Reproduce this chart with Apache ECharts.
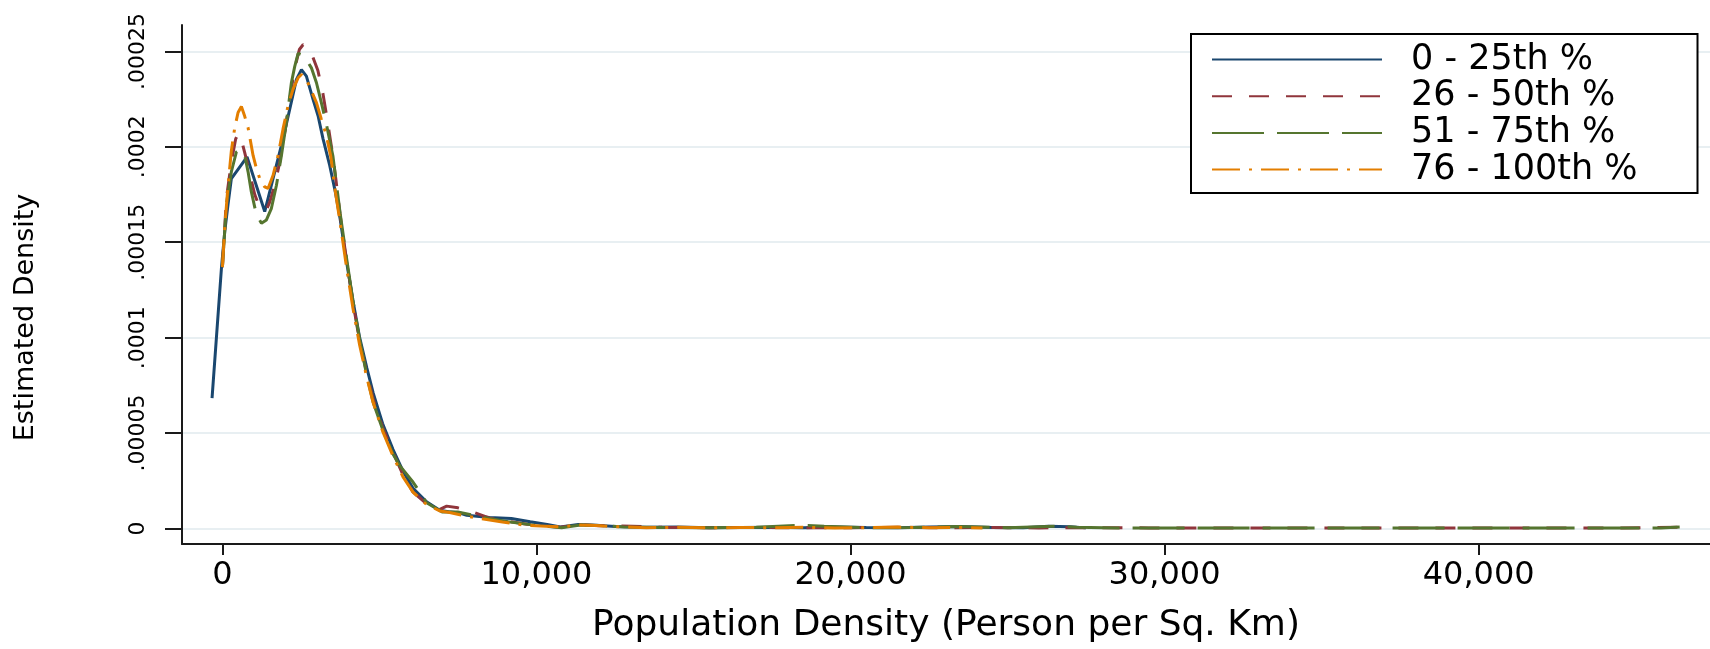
<!DOCTYPE html>
<html>
<head>
<meta charset="utf-8">
<title>Population Density – Estimated Density by Quartile</title>
<script src="https://cdn.jsdelivr.net/npm/echarts@6/dist/echarts.min.js"></script>
<style>
  html, body { margin: 0; padding: 0; background: #ffffff; }
  #chart { width: 1710px; height: 649px; }
</style>
</head>
<body>
<div id="chart"></div>
<script>
// Kernel density curves of population density (persons per sq. km), by quartile group
const seriesNames = ['0 - 25th %', '26 - 50th %', '51 - 75th %', '76 - 100th %'];

const xTicks = [0, 10000, 20000, 30000, 40000];
const xTickLabels = ['0', '10,000', '20,000', '30,000', '40,000'];
const yTicks = [0, 0.00005, 0.0001, 0.00015, 0.0002, 0.00025];
const yTickLabels = ['0', '.00005', '.0001', '.00015', '.0002', '.00025'];

const blueX = [-330, -190, -30, 75, 180, 285, 785, 1347, 1930, 2357,
  2516, 2673, 2885, 3045, 3204, 3416, 3600, 3750, 3950, 4150,
  4370, 4600, 4800, 5100, 5430, 5750, 6070, 6500, 6920, 7200,
  7560, 7780, 8500, 9200, 9800, 10340, 10760, 11330, 11900, 12500,
  13500, 14500, 15500, 16500, 17500, 18500, 19500, 20500, 21500, 22500,
  23500, 24500, 25500, 26300, 27000, 27500];
const blueY = [0.683e-4, 1.003e-4, 1.367e-4, 1.557e-4, 1.70e-4, 1.834e-4, 1.947e-4, 1.661e-4, 2.042e-4, 2.353e-4,
  2.405e-4, 2.371e-4, 2.249e-4, 2.163e-4, 2.042e-4, 1.903e-4, 1.76e-4, 1.62e-4, 1.40e-4, 1.20e-4,
  1.00e-4, 0.84e-4, 0.71e-4, 0.55e-4, 0.415e-4, 0.30e-4, 0.21e-4, 0.14e-4, 0.095e-4, 0.088e-4,
  0.081e-4, 0.069e-4, 0.058e-4, 0.052e-4, 0.035e-4, 0.021e-4, 0.008e-4, 0.021e-4, 0.017e-4, 0.010e-4,
  0.006e-4, 0.008e-4, 0.004e-4, 0.005e-4, 0.006e-4, 0.004e-4, 0.007e-4, 0.005e-4, 0.004e-4, 0.008e-4,
  0.010e-4, 0.005e-4, 0.004e-4, 0.012e-4, 0.009e-4, 0.003e-4];

const maroonX = [0, 127, 285, 420, 500, 600, 710, 870, 1030, 1190,
  1294, 1400, 1506, 1666, 1825, 1980, 2143, 2300, 2450, 2567,
  2720, 2880, 3040, 3200, 3350, 3500, 3620, 3750, 3950, 4150,
  4370, 4600, 4800, 5100, 5430, 5750, 6070, 6500, 6920, 7140,
  7500, 8000, 8490, 9000, 9700, 10300, 10760, 11400, 12000, 13050,
  14000, 15500, 17000, 18500, 20000, 21500, 23000, 24500, 26000, 27500,
  29500, 32000, 35000, 38000, 41000, 44000, 46400];
const maroonY = [1.37e-4, 1.73e-4, 1.92e-4, 2.04e-4, 2.07e-4, 2.04e-4, 1.97e-4, 1.86e-4, 1.75e-4, 1.68e-4,
  1.67e-4, 1.67e-4, 1.71e-4, 1.80e-4, 1.92e-4, 2.07e-4, 2.25e-4, 2.41e-4, 2.51e-4, 2.535e-4,
  2.525e-4, 2.47e-4, 2.40e-4, 2.28e-4, 2.13e-4, 1.97e-4, 1.82e-4, 1.64e-4, 1.41e-4, 1.19e-4,
  0.98e-4, 0.81e-4, 0.68e-4, 0.53e-4, 0.40e-4, 0.28e-4, 0.19e-4, 0.13e-4, 0.10e-4, 0.117e-4,
  0.108e-4, 0.085e-4, 0.055e-4, 0.040e-4, 0.022e-4, 0.012e-4, 0.006e-4, 0.020e-4, 0.014e-4, 0.012e-4,
  0.006e-4, 0.004e-4, 0.005e-4, 0.003e-4, 0.004e-4, 0.006e-4, 0.004e-4, 0.005e-4, 0.003e-4, 0.004e-4,
  0.003e-4, 0.003e-4, 0.002e-4, 0.003e-4, 0.003e-4, 0.002e-4, 0.006e-4];

const greenX = [0, 127, 285, 445, 551, 710, 817, 920, 1083, 1242,
  1401, 1560, 1720, 1879, 2036, 2196, 2303, 2410, 2516, 2673,
  2833, 2994, 3150, 3310, 3520, 3650, 3750, 3950, 4150, 4370,
  4600, 4800, 5100, 5430, 5646, 6073, 6216, 6500, 6997, 7493,
  8490, 9100, 9800, 10400, 10800, 11400, 12000, 12800, 14000, 15500,
  17000, 18460, 19160, 20500, 22000, 23400, 25000, 26600, 27200, 28500,
  31000, 34000, 37000, 40000, 43000, 45800, 46400];
const greenY = [1.37e-4, 1.70e-4, 1.87e-4, 1.973e-4, 1.986e-4, 1.955e-4, 1.869e-4, 1.765e-4, 1.644e-4, 1.60e-4,
  1.617e-4, 1.678e-4, 1.799e-4, 1.955e-4, 2.128e-4, 2.336e-4, 2.422e-4, 2.49e-4, 2.483e-4, 2.457e-4,
  2.414e-4, 2.336e-4, 2.232e-4, 2.119e-4, 1.95e-4, 1.78e-4, 1.65e-4, 1.42e-4, 1.20e-4, 0.99e-4,
  0.80e-4, 0.66e-4, 0.52e-4, 0.39e-4, 0.329e-4, 0.242e-4, 0.208e-4, 0.135e-4, 0.086e-4, 0.086e-4,
  0.052e-4, 0.035e-4, 0.020e-4, 0.010e-4, 0.004e-4, 0.018e-4, 0.016e-4, 0.008e-4, 0.005e-4, 0.004e-4,
  0.006e-4, 0.017e-4, 0.012e-4, 0.004e-4, 0.005e-4, 0.010e-4, 0.004e-4, 0.012e-4, 0.006e-4, 0.003e-4,
  0.003e-4, 0.002e-4, 0.003e-4, 0.003e-4, 0.002e-4, 0.003e-4, 0.008e-4];

const orangeX = [0, 75, 180, 285, 392, 498, 604, 710, 817, 976,
  1083, 1188, 1347, 1453, 1613, 1773, 1930, 2089, 2248, 2410,
  2516, 2673, 2833, 2994, 3150, 3310, 3450, 3600, 3750, 3950,
  4150, 4370, 4600, 4800, 5100, 5430, 5750, 6070, 6500, 6920,
  7200, 7560, 8100, 8917, 9627, 10300, 10760, 11300, 11900, 12600,
  13500, 14500, 15500, 16500, 17500, 18500, 19500, 20500, 21500, 22500,
  23500, 24200];
const orangeY = [1.37e-4, 1.58e-4, 1.80e-4, 1.98e-4, 2.10e-4, 2.18e-4, 2.211e-4, 2.16e-4, 2.10e-4, 1.955e-4,
  1.886e-4, 1.834e-4, 1.79e-4, 1.782e-4, 1.851e-4, 1.955e-4, 2.094e-4, 2.215e-4, 2.301e-4, 2.362e-4,
  2.379e-4, 2.353e-4, 2.293e-4, 2.232e-4, 2.145e-4, 2.059e-4, 1.95e-4, 1.76e-4, 1.60e-4, 1.37e-4,
  1.16e-4, 0.96e-4, 0.79e-4, 0.66e-4, 0.51e-4, 0.38e-4, 0.27e-4, 0.19e-4, 0.125e-4, 0.092e-4,
  0.085e-4, 0.072e-4, 0.055e-4, 0.034e-4, 0.017e-4, 0.012e-4, 0.008e-4, 0.018e-4, 0.015e-4, 0.009e-4,
  0.004e-4, 0.006e-4, 0.003e-4, 0.005e-4, 0.004e-4, 0.006e-4, 0.003e-4, 0.004e-4, 0.007e-4, 0.004e-4,
  0.005e-4, 0.003e-4];

const FONT = 'DejaVu Sans';
const AXIS_COLOR = '#1a1a1a';

function pairs(xs, ys) { return xs.map((x, i) => [x, ys[i]]); }
function tickText(ticks, labels, v, eps) {
  const i = ticks.findIndex(t => Math.abs(t - v) < eps);
  return i >= 0 ? labels[i] : '';
}

const styles = [
  { color: '#1a476f', type: 'solid' },
  { color: '#90353b', type: [20, 17] },
  { color: '#55752f', type: [52, 13] },
  { color: '#e37e00', type: [28, 9, 3, 9] }
];
const curves = [pairs(blueX, blueY), pairs(maroonX, maroonY), pairs(greenX, greenY), pairs(orangeX, orangeY)];

const chart = echarts.init(document.getElementById('chart'), null, { renderer: 'canvas' });
chart.setOption({
  animation: false,
  backgroundColor: '#ffffff',
  grid: { left: 182, top: 25, right: 0, bottom: 100 },
  legend: {
    orient: 'vertical',
    left: 1191,
    top: 34,
    padding: [8, 60, 6, 20],
    itemWidth: 170,
    itemHeight: 20,
    itemGap: 1.7,
    borderColor: '#000000',
    borderWidth: 2,
    backgroundColor: '#ffffff',
    selectedMode: false,
    itemStyle: { opacity: 0 },
    lineStyle: { width: 2 },
    textStyle: { fontFamily: FONT, fontSize: 35, color: '#000000', padding: [0, 0, 0, 24] },
    data: seriesNames
  },
  xAxis: {
    type: 'value',
    min: -1287,
    max: 47366,
    name: 'Population Density (Person per Sq. Km)',
    nameLocation: 'middle',
    nameGap: 64,
    nameTextStyle: { fontFamily: FONT, fontSize: 36, color: '#000000' },
    axisLine: { show: true, onZero: false, lineStyle: { color: AXIS_COLOR, width: 2 } },
    axisTick: { show: true, length: 11, customValues: xTicks, lineStyle: { color: AXIS_COLOR, width: 2 } },
    axisLabel: {
      customValues: xTicks,
      margin: 16,
      fontFamily: FONT, fontSize: 32, color: '#000000',
      formatter: v => tickText(xTicks, xTickLabels, v, 1)
    },
    splitLine: { show: false }
  },
  yAxis: {
    type: 'value',
    min: -0.00000815,
    max: 0.00026386,
    name: 'Estimated Density',
    nameLocation: 'middle',
    nameRotate: 90,
    nameGap: 143,
    nameTextStyle: { fontFamily: FONT, fontSize: 27, color: '#000000', padding: [0, 66, 0, 0] },
    axisLine: { show: true, onZero: false, lineStyle: { color: AXIS_COLOR, width: 2 } },
    axisTick: { show: true, length: 17, customValues: yTicks, lineStyle: { color: AXIS_COLOR, width: 2 } },
    axisLabel: {
      customValues: yTicks,
      rotate: 90,
      margin: 33,
      fontFamily: FONT, fontSize: 22, color: '#000000',
      formatter: v => tickText(yTicks, yTickLabels, v, 1e-9)
    },
    splitLine: { show: true, lineStyle: { color: '#e8eff2', width: 2 } }
  },
  series: curves.map((data, i) => ({
    name: seriesNames[i],
    type: 'line',
    data: data,
    symbol: 'none',
    silent: true,
    itemStyle: { color: styles[i].color },
    lineStyle: { color: styles[i].color, width: 3, type: styles[i].type, cap: 'butt' }
  }))
});
</script>
</body>
</html>
